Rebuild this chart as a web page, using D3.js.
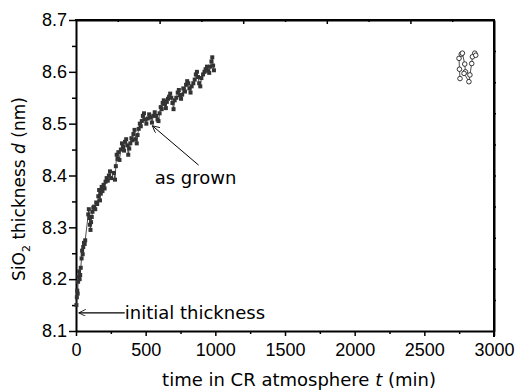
<!DOCTYPE html>
<html>
<head>
<meta charset="utf-8">
<script src="https://cdn.jsdelivr.net/npm/d3@7"></script>
<style>
    body { margin: 0; background: #fff; }
    svg { font-family: "DejaVu Sans", sans-serif; }
    .axis path, .axis line { stroke: #000; }
    .axis text { font-size: 18px; fill: #000; }
</style>
</head>
<body>
<svg id="chart" width="518" height="390"></svg>
<script>
/* as grown oxide, CR atmosphere run (min, nm) */
const grownTime = [3, 6, 9, 12, 15, 19, 22, 26, 30, 34, 40, 44, 48, 52, 57, 62, 66,
    88, 92, 96, 100, 104, 108, 113, 118, 124, 130, 138, 145, 152, 160, 166, 172, 178, 184, 190,
    198, 205, 212, 220, 228, 236, 244, 252, 272, 280, 286, 292, 298, 304, 312,
    322, 330, 338, 345, 352, 360, 368, 375, 382, 390, 398, 405, 412, 420, 428, 436, 442, 450,
    458, 465, 472, 480, 488, 495, 505, 515, 525, 535, 545, 555, 565, 575, 585, 592, 600, 608,
    615, 622, 630, 638, 645, 652, 660, 668, 676, 684, 692, 700, 708, 720, 730, 738, 746, 754,
    762, 770, 782, 790, 798, 806, 814, 822, 830, 842, 852, 860, 868, 876, 884, 892, 900, 912,
    922, 930, 940, 948, 956, 964, 972, 978, 984, 990];
const grownThickness = [8.150, 8.165, 8.178, 8.172, 8.195, 8.205, 8.215, 8.200, 8.208, 8.222,
    8.240, 8.255, 8.248, 8.262, 8.270, 8.268, 8.275,
    8.325, 8.335, 8.318, 8.305, 8.295, 8.310, 8.320, 8.330, 8.338, 8.340, 8.335, 8.348, 8.345,
    8.360, 8.372, 8.352, 8.365, 8.378, 8.370,
    8.382, 8.375, 8.388, 8.395, 8.390, 8.400, 8.408, 8.395, 8.405, 8.392, 8.418, 8.440, 8.432,
    8.445, 8.430,
    8.450, 8.462, 8.455, 8.448, 8.465, 8.470, 8.458, 8.440, 8.452, 8.462, 8.472, 8.468, 8.480,
    8.488, 8.470, 8.462, 8.478, 8.490,
    8.500, 8.495, 8.505, 8.515, 8.520, 8.508, 8.500, 8.510, 8.518, 8.512, 8.502, 8.515, 8.522,
    8.515, 8.508, 8.505, 8.520, 8.532,
    8.528, 8.540, 8.545, 8.538, 8.530, 8.542, 8.548, 8.552, 8.558, 8.550, 8.540, 8.528, 8.545,
    8.550, 8.560, 8.565, 8.555, 8.548,
    8.556, 8.568, 8.562, 8.575, 8.582, 8.578, 8.568, 8.560, 8.572, 8.578, 8.585, 8.595, 8.600,
    8.590, 8.578, 8.572, 8.588, 8.595,
    8.600, 8.605, 8.610, 8.602, 8.598, 8.610, 8.620, 8.628, 8.612, 8.603];

/* later measurement, open circles */
const laterTime = [2756, 2752, 2749, 2765, 2773, 2790, 2795, 2785, 2820, 2827, 2840, 2845, 2862, 2869];
const laterThickness = [8.587, 8.605, 8.626, 8.634, 8.636, 8.615, 8.600, 8.597, 8.581, 8.594,
    8.616, 8.629, 8.636, 8.632];

const xTicks = [0, 500, 1000, 1500, 2000, 2500, 3000];
const xMinorTicks = [250, 750, 1250, 1750, 2250, 2750];
const yTicks = [8.1, 8.2, 8.3, 8.4, 8.5, 8.6, 8.7];
const yMinorTicks = [8.15, 8.25, 8.35, 8.45, 8.55, 8.65];

const margin = { left: 76, right: 24, top: 20, bottom: 59 };
const width = 518 - margin.left - margin.right;
const height = 390 - margin.top - margin.bottom;

const svg = d3.select("#chart");
const g = svg.append("g").attr("transform", `translate(${margin.left},${margin.top})`);

const x = d3.scaleLinear().domain([0, 3000]).range([0, width]);
const y = d3.scaleLinear().domain([8.1, 8.7]).range([height, 0]);

// minor ticks first, majors drawn over them
g.append("g").classed("axis", true)
    .attr("transform", `translate(0,${height})`)
    .call(d3.axisBottom(x).tickValues(xMinorTicks).tickSize(3).tickSizeOuter(0).tickFormat(""))
    .call(a => a.select(".domain").remove());
g.append("g").classed("axis", true)
    .call(d3.axisLeft(y).tickValues(yMinorTicks).tickSize(4).tickSizeOuter(0).tickFormat(""))
    .call(a => a.select(".domain").remove());

g.append("g").classed("axis", true)
    .attr("transform", `translate(0,${height})`)
    .call(d3.axisBottom(x).tickValues(xTicks).tickSize(5).tickSizeOuter(0).tickPadding(7).tickFormat(d3.format("d")));
g.append("g").classed("axis", true)
    .call(d3.axisLeft(y).tickValues(yTicks).tickSize(7).tickSizeOuter(0).tickPadding(2).tickFormat(d3.format(".1f")));

// top and right frame carry their own evenly spaced ticks
const topScale = d3.scaleLinear().domain([0, 10]).range([0, width]);
const rightScale = d3.scaleLinear().domain([0, 10]).range([height, 0]);
g.append("g").classed("axis", true)
    .call(d3.axisTop(topScale).tickValues(d3.range(1, 10)).tickSize(-2).tickSizeOuter(0).tickFormat(""))
    .call(a => a.selectAll(".tick line").attr("y2", d => (d % 2 === 0 ? 4 : 2)));
g.append("g").classed("axis", true)
    .attr("transform", `translate(${width},0)`)
    .call(d3.axisRight(rightScale).tickValues(d3.range(1, 10)).tickSize(2).tickSizeOuter(0).tickFormat(""));

g.selectAll(".axis .domain").attr("stroke-width", 2);
g.selectAll(".axis .tick line").attr("stroke-width", 1.5);

// frame lines
g.append("line").attr("x1", -1).attr("x2", width + 1).attr("y1", 0).attr("y2", 0)
    .attr("stroke", "#000").attr("stroke-width", 2);
g.append("line").attr("x1", width).attr("x2", width).attr("y1", -1).attr("y2", height + 6)
    .attr("stroke", "#000").attr("stroke-width", 2);

// as grown series
const grown = grownTime.map((t, i) => [t, grownThickness[i]]);
g.append("path")
    .datum(grown)
    .attr("fill", "none")
    .attr("stroke", "#222")
    .attr("stroke-width", 0.8)
    .attr("d", d3.line().x(d => x(d[0])).y(d => y(d[1])));
g.append("g").selectAll("rect")
    .data(grown)
    .join("rect")
    .attr("x", d => x(d[0]) - 2)
    .attr("y", d => y(d[1]) - 2)
    .attr("width", 4)
    .attr("height", 4)
    .attr("fill", "#333");

// later series
const later = laterTime.map((t, i) => [t, laterThickness[i]]);
g.append("path")
    .datum(later)
    .attr("fill", "none")
    .attr("stroke", "#222")
    .attr("stroke-width", 0.8)
    .attr("d", d3.line().x(d => x(d[0])).y(d => y(d[1])));
g.append("g").selectAll("circle")
    .data(later)
    .join("circle")
    .attr("cx", d => x(d[0]))
    .attr("cy", d => y(d[1]))
    .attr("r", 2.3)
    .attr("fill", "#fff")
    .attr("stroke", "#222")
    .attr("stroke-width", 0.9);

// annotations
const defs = svg.append("defs");
defs.append("marker")
    .attr("id", "head")
    .attr("viewBox", "0 0 10 10")
    .attr("refX", 10).attr("refY", 5)
    .attr("markerWidth", 9).attr("markerHeight", 7)
    .attr("markerUnits", "userSpaceOnUse")
    .attr("orient", "auto")
    .append("path")
    .attr("d", "M0,0 L10,5 L0,10")
    .attr("fill", "none")
    .attr("stroke", "#000")
    .attr("stroke-width", 1.2);

g.append("line")
    .attr("x1", x(880)).attr("y1", y(8.42))
    .attr("x2", x(548)).attr("y2", y(8.496))
    .attr("stroke", "#000").attr("stroke-width", 1)
    .attr("marker-end", "url(#head)");
g.append("text")
    .attr("x", x(565)).attr("y", y(8.384))
    .attr("font-size", 18)
    .text("as grown");

g.append("line")
    .attr("x1", x(350)).attr("y1", y(8.135))
    .attr("x2", x(20)).attr("y2", y(8.135))
    .attr("stroke", "#000").attr("stroke-width", 1.2)
    .attr("marker-end", "url(#head)");
g.append("text")
    .attr("x", x(350)).attr("y", y(8.135) + 6)
    .attr("font-size", 18)
    .text("initial thickness");

// axis titles
const xTitle = svg.append("text")
    .attr("x", 299)
    .attr("y", 386)
    .attr("text-anchor", "middle")
    .attr("font-size", 18);
xTitle.append("tspan").text("time in CR atmosphere ");
xTitle.append("tspan").attr("font-style", "italic").text("t");
xTitle.append("tspan").text(" (min)");

const yTitle = svg.append("text")
    .attr("transform", `translate(25,189) rotate(-90)`)
    .attr("text-anchor", "middle")
    .attr("font-size", 17);
yTitle.append("tspan").text("SiO");
yTitle.append("tspan").attr("font-size", 11).attr("dy", 5).text("2");
yTitle.append("tspan").attr("dy", -5).text(" thickness ");
yTitle.append("tspan").attr("font-style", "italic").text("d");
yTitle.append("tspan").text(" (nm)");
</script>
</body>
</html>
